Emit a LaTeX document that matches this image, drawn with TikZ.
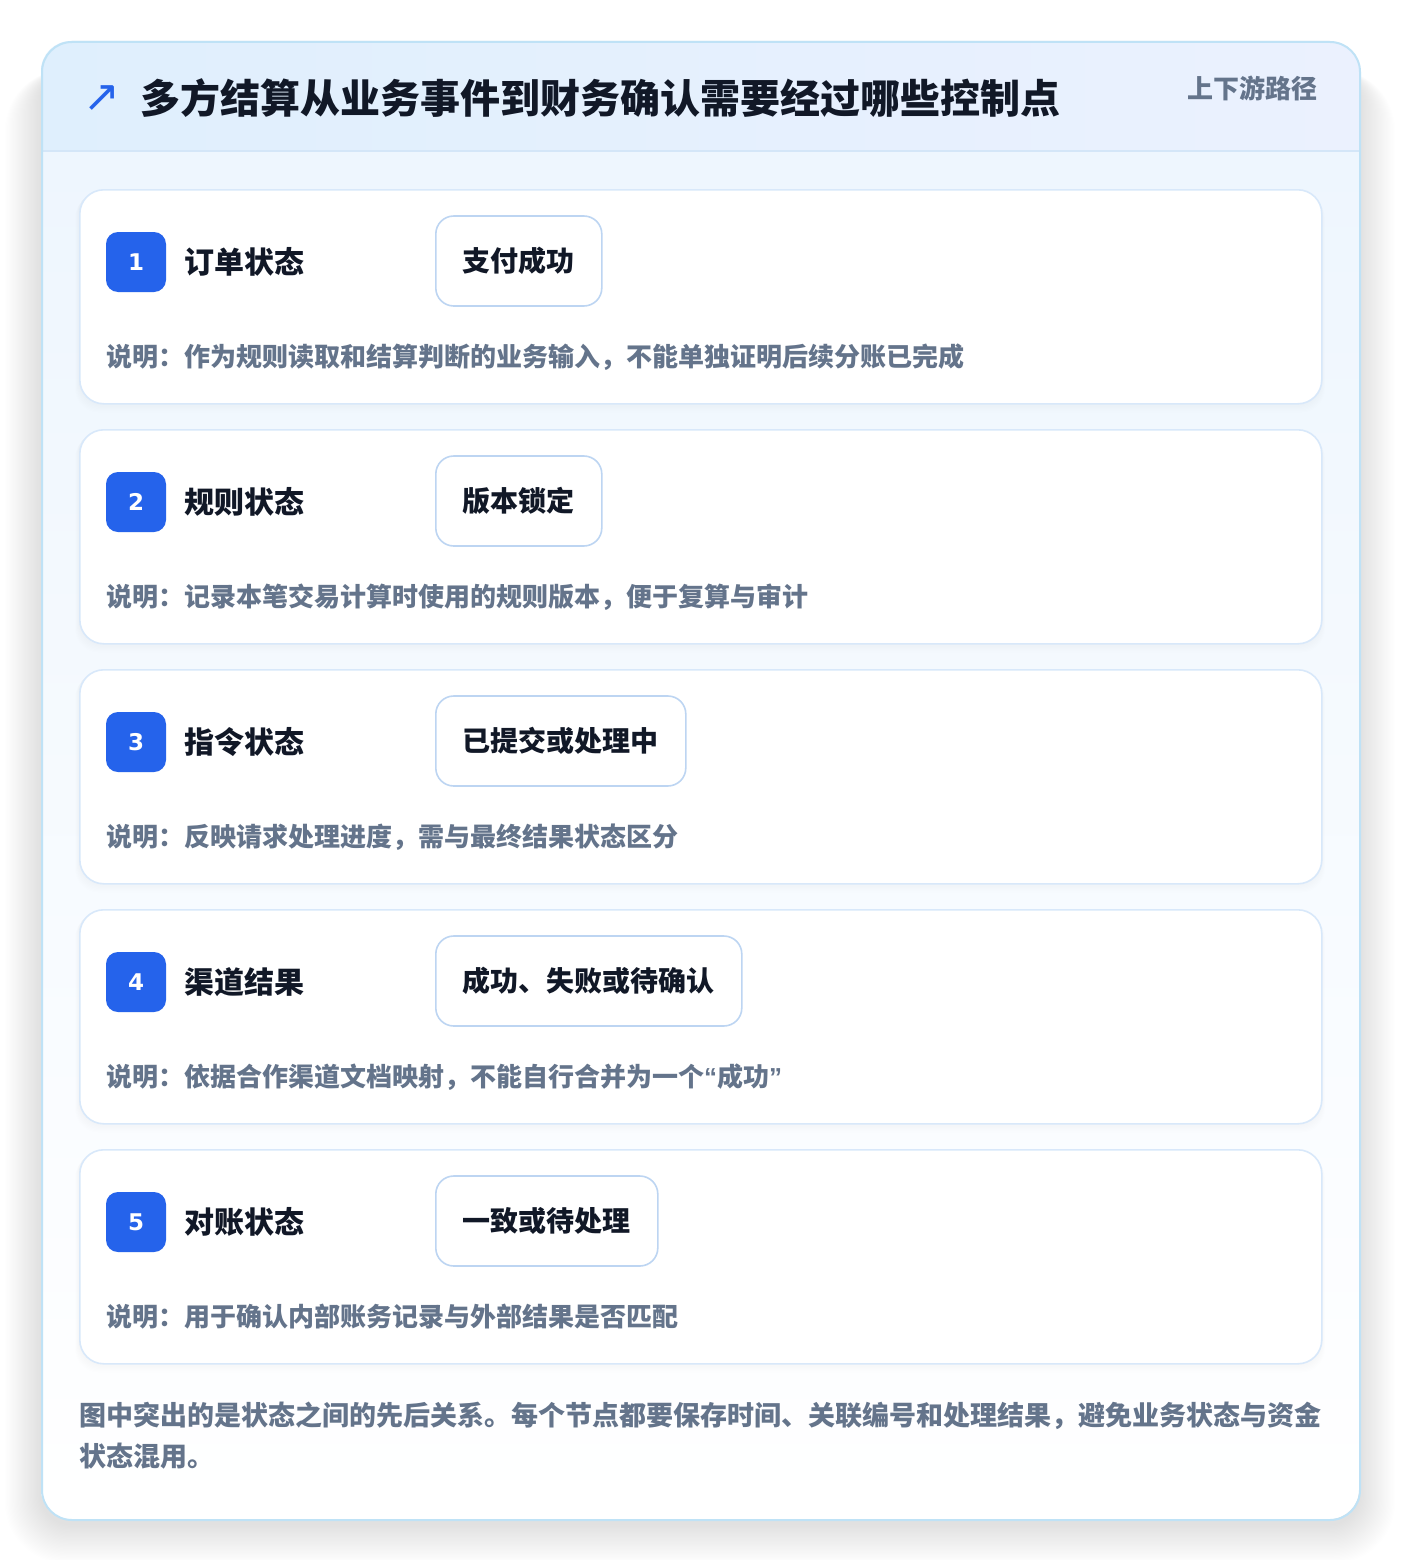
\documentclass[tikz,border=0pt]{standalone}
\usepackage{fontspec}
\setmainfont{Noto Sans CJK SC}
\newfontfamily\symfont{DejaVu Sans}
\newfontfamily\quotefont{Liberation Sans}
\definecolor{titlec}{HTML}{111827}
\definecolor{descc}{HTML}{64748B}
\definecolor{badgec}{HTML}{2563EB}
\definecolor{outerb}{HTML}{BFE2F6}
\definecolor{cardb}{HTML}{D8E8FA}
\definecolor{chipb}{HTML}{BDD5F2}
\definecolor{headl}{HTML}{DFEFFD}
\definecolor{headr}{HTML}{EBF1FE}
\definecolor{bodyt}{HTML}{EEF6FE}
\definecolor{sepc}{HTML}{D4E6F8}
\pgfdeclarelayer{background}
\pgfsetlayers{background,main}
\begin{document}
\begin{tikzpicture}[x=1pt,y=-1pt,
  fz/.style={font=\fontsize{#1}{#1}\selectfont\bfseries, text height={0.88*#1pt}, text depth={0.12*#1pt}},
  txt/.style={inner sep=0pt},
  cardbox/.style={draw=cardb, line width=1.6pt, fill=white, rounded corners=24pt, minimum width=1242pt, minimum height=214pt, anchor=north west, inner sep=0pt},
  badgebox/.style={fill=badgec, rounded corners=12pt, minimum width=60pt, minimum height=60pt, inner sep=0pt, text=white, font=\fontsize{23}{23}\selectfont\symfont\bfseries},
  labeltxt/.style={txt, fz=30, anchor=west, text=titlec},
  chipbox/.style={draw=chipb, line width=1.6pt, fill=white, rounded corners=18pt, minimum height=90pt, inner xsep=27pt, inner ysep=0pt, fz=28, anchor=west, text=titlec},
  desctxt/.style={txt, fz=26, anchor=west, text=descc},
]
\useasboundingbox (0,0) rectangle (1400,1560);
\fill[white] (0,0) rectangle (1400,1560);
% outer soft shadow
\foreach \i in {1,...,30}{
  \fill[black, opacity=0.0035, rounded corners=30pt+\i pt] (41-\i*1.2, 70) rectangle (1359+\i*1.2, 1524+\i*1.3);
}
% outer card
\fill[white, rounded corners=30pt] (41,41) rectangle (1359,1519);
\begin{scope}
  \clip[rounded corners=30pt] (41,41) rectangle (1359,1519);
  \shade[top color=bodyt, bottom color=white] (41,151) rectangle (1359,1519);
  \shade[left color=headl, right color=headr] (41,41) rectangle (1359,151);
  \draw[sepc, line width=1.5pt] (41,151) -- (1359,151);
\end{scope}
\node[draw=outerb, line width=2pt, rounded corners=30pt, minimum width=1318pt, minimum height=1478pt, anchor=north west, inner sep=0pt] (outer) at (41,41) {};
% header
\node[inner sep=0pt, text=badgec, font=\fontsize{44}{44}\selectfont\symfont] (icon) at (102,99) {↗};
\node[txt, fz=40, anchor=west, text=titlec] (title) at (140,98) {多方结算从业务事件到财务确认需要经过哪些控制点};
\node[txt, fz=26, anchor=east, text=descc] (tag) at (1318,89) {上下游路径};
% rows
\foreach \n/\lab/\chip/\desc [count=\k from 0] in {
  1/订单状态/支付成功/说明：作为规则读取和结算判断的业务输入，不能单独证明后续分账已完成,
  2/规则状态/版本锁定/说明：记录本笔交易计算时使用的规则版本，便于复算与审计,
  3/指令状态/已提交或处理中/说明：反映请求处理进度，需与最终结果状态区分,
  4/渠道结果/成功、失败或待确认/说明：依据合作渠道文档映射，不能自行合并为一个{\quotefont“}成功{\quotefont”},
  5/对账状态/一致或待处理/说明：用于确认内部账务记录与外部结果是否匹配}{
  \pgfmathsetmacro{\yy}{189+240*\k}
  \foreach \j in {1,...,8}{
    \fill[black, opacity=0.003, rounded corners=24pt] (79-\j*0.5,\yy+\j*0.6) rectangle (1321+\j*0.5,\yy+214+\j*1.2);
  }
  \node[cardbox] (card\n) at (79,\yy) {};
  \node[badgebox] (badge\n) at (136,\yy+73) {\n};
  \node[labeltxt] (label\n) at (184,\yy+73) {\lab};
  \node[chipbox] (chip\n) at (435,\yy+72) {\chip};
  \begin{pgfonlayer}{background}
    \foreach \j in {1,...,10}{
      \fill[black, opacity=0.005, rounded corners=18pt+\j*0.5pt] ([xshift=-\j*0.6pt, yshift=-\j*0.8pt]chip\n.south west) rectangle ([xshift=\j*0.6pt, yshift=6pt]chip\n.north east);
    }
  \end{pgfonlayer}
  \node[desctxt] (desc\n) at (106,\yy+168) {\desc};
}
% footer text
\node[txt, fz=27, anchor=west, text=descc] (foot1) at (79,1415) {图中突出的是状态之间的先后关系。每个节点都要保存时间、关联编号和处理结果，避免业务状态与资金};
\node[txt, fz=27, anchor=west, text=descc] (foot2) at (79,1456) {状态混用。};
\end{tikzpicture}
\end{document}
